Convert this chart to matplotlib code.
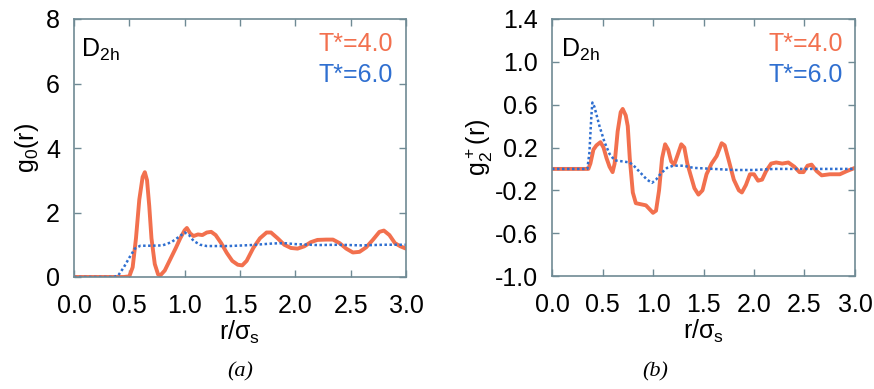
import matplotlib
matplotlib.use("Agg")
import matplotlib.pyplot as plt

# ---- data ----
r_a_t4 = [0.0, 0.45, 0.50, 0.53, 0.56, 0.59, 0.62, 0.64, 0.66, 0.68, 0.70, 0.73, 0.76, 0.78,
          0.82, 0.87, 0.92, 0.96, 1.00, 1.02, 1.05, 1.08, 1.12, 1.16, 1.20, 1.24, 1.28, 1.33,
          1.38, 1.43, 1.48, 1.52, 1.56, 1.62, 1.68, 1.74, 1.78, 1.84, 1.90, 1.96, 2.02, 2.08,
          2.14, 2.20, 2.28, 2.34, 2.40, 2.46, 2.52, 2.58, 2.64, 2.70, 2.76, 2.80, 2.85, 2.90,
          2.95, 3.00]
g_a_t4 = [0.0, 0.0, 0.02, 0.3, 1.2, 2.4, 3.1, 3.25, 3.0, 2.2, 1.2, 0.4, 0.08, 0.05,
          0.2, 0.55, 0.9, 1.2, 1.45, 1.52, 1.35, 1.27, 1.32, 1.30, 1.38, 1.40, 1.30, 1.05,
          0.75, 0.5, 0.38, 0.36, 0.5, 0.9, 1.2, 1.38, 1.38, 1.2, 1.0, 0.9, 0.88, 0.95,
          1.08, 1.15, 1.16, 1.16, 1.05, 0.88, 0.76, 0.78, 0.92, 1.15, 1.40, 1.44, 1.3, 1.05,
          0.95, 0.88]

r_a_t6 = [0.0, 0.36, 0.40, 0.45, 0.50, 0.55, 0.60, 0.70, 0.80, 0.88, 0.95, 1.00, 1.04, 1.08,
          1.14, 1.20, 1.40, 1.60, 1.80, 1.90, 2.00, 2.20, 2.40, 2.60, 2.80, 3.00]
g_a_t6 = [0.0, 0.0, 0.05, 0.3, 0.6, 0.88, 0.97, 0.97, 0.98, 1.08, 1.25, 1.38, 1.3, 1.12,
          1.0, 0.96, 0.96, 0.99, 1.04, 1.05, 1.02, 0.99, 1.0, 0.98, 1.0, 1.0]

r_b_t4 = [0.0, 0.36, 0.38, 0.41, 0.44, 0.48, 0.51, 0.54, 0.57, 0.60, 0.62, 0.65, 0.68, 0.70,
          0.73, 0.75, 0.77, 0.80, 0.83, 0.88, 0.93, 0.97, 1.00, 1.03, 1.06, 1.09, 1.12, 1.15,
          1.18, 1.21, 1.24, 1.28, 1.31, 1.34, 1.37, 1.41, 1.45, 1.49, 1.53, 1.58, 1.63, 1.68,
          1.71, 1.75, 1.80, 1.85, 1.88, 1.92, 1.96, 2.00, 2.04, 2.08, 2.12, 2.17, 2.22, 2.28,
          2.34, 2.40, 2.45, 2.49, 2.53, 2.57, 2.62, 2.67, 2.75, 2.85, 2.92, 3.00]
g_b_t4 = [0.0, 0.0, 0.05, 0.18, 0.22, 0.25, 0.20, 0.10, 0.02, -0.03, 0.05, 0.35, 0.53, 0.56,
          0.50, 0.40, 0.1, -0.22, -0.32, -0.33, -0.34, -0.38, -0.41, -0.39, -0.2, 0.1, 0.23, 0.18,
          0.07, 0.04, 0.12, 0.23, 0.20, 0.05, -0.05, -0.18, -0.24, -0.20, -0.05, 0.05, 0.12, 0.24,
          0.22, 0.08, -0.10, -0.20, -0.22, -0.15, -0.05, -0.05, -0.11, -0.10, -0.02, 0.05, 0.06, 0.05,
          0.06, 0.02, -0.03, -0.03, 0.03, 0.04, -0.02, -0.06, -0.05, -0.05, -0.02, 0.01]

r_b_t6 = [0.0, 0.35, 0.37, 0.39, 0.40, 0.42, 0.47, 0.52, 0.57, 0.62, 0.70, 0.77, 0.82, 0.88,
          0.94, 0.99, 1.03, 1.08, 1.14, 1.20, 1.30, 1.40, 1.60, 1.80, 2.00, 2.20, 2.50, 2.80, 3.00]
g_b_t6 = [0.0, 0.0, 0.15, 0.50, 0.62, 0.58, 0.40, 0.25, 0.14, 0.08, 0.07, 0.06, 0.02, -0.04,
          -0.10, -0.13, -0.10, -0.04, 0.01, 0.03, 0.03, 0.01, 0.0, -0.01, -0.01, 0.0, 0.0, 0.0, 0.0]

xticks = [0.0, 0.5, 1.0, 1.5, 2.0, 2.5, 3.0]
yticks_a = [0, 2, 4, 6, 8]
yticks_b = [-1.0, -0.6, -0.2, 0.2, 0.6, 1.0, 1.4]
labels = ["T*=4.0", "T*=6.0"]

# ---- style ----
plt.rcParams['font.family'] = ['Liberation Sans', 'DejaVu Sans']
c_or = '#f2704e'
c_bl = '#2f6fd0'
c_sp = '#6f8a94'
fs = 18

fig = plt.figure(figsize=(8.74, 3.89), dpi=100)
W, H = 874, 389
axa = fig.add_axes([74 / W, 1 - 277 / H, (406 - 74) / W, (277 - 19) / H])
axb = fig.add_axes([552 / W, 1 - 276 / H, (855 - 552) / W, (276 - 19) / H])


def style(ax):
    for s in ax.spines.values():
        s.set_color(c_sp)
        s.set_linewidth(1.2)
    ax.tick_params(direction='in', length=5, width=1, color=c_sp, labelsize=fs,
                   top=True, right=True)
    ax.tick_params(axis='x', pad=12)
    ax.tick_params(axis='y', pad=10)
    ax.set_xlim(0, 3.0)
    ax.set_xticks(xticks)
    ax.set_xticklabels([f"{t:.1f}" for t in xticks])
    ax.set_xlabel(r"r/$\mathregular{\sigma_s}$", fontsize=fs, labelpad=1)


# panel a
axa.plot(r_a_t4, g_a_t4, color=c_or, lw=2.8, solid_joinstyle='round')
axa.plot(r_a_t6, g_a_t6, color=c_bl, lw=1.8, ls=(0, (1, 1)))
axa.set_ylim(0, 8)
axa.set_yticks(yticks_a)
style(axa)
axa.set_ylabel(r"g$\mathregular{_0}$(r)", fontsize=fs, labelpad=4)
axa.text(0.02, 0.93, r"D$\mathregular{_{2h}}$", transform=axa.transAxes, fontsize=fs,
         va='top', ha='left')
axa.text(0.96, 0.95, labels[0], transform=axa.transAxes, fontsize=fs, color=c_or,
         va='top', ha='right')
axa.text(0.96, 0.83, labels[1], transform=axa.transAxes, fontsize=fs, color=c_bl,
         va='top', ha='right')

# panel b
axb.plot(r_b_t4, g_b_t4, color=c_or, lw=2.8, solid_joinstyle='round')
axb.plot(r_b_t6, g_b_t6, color=c_bl, lw=1.8, ls=(0, (1, 1)))
axb.set_ylim(-1.0, 1.4)
axb.set_yticks(yticks_b)
axb.set_yticklabels([f"{t:.1f}" for t in yticks_b])
style(axb)
axb.set_ylabel(r"g$\mathregular{_2^+}$(r)", fontsize=fs, labelpad=0)
axb.text(0.03, 0.93, r"D$\mathregular{_{2h}}$", transform=axb.transAxes, fontsize=fs,
         va='top', ha='left')
axb.text(0.96, 0.95, labels[0], transform=axb.transAxes, fontsize=fs, color=c_or,
         va='top', ha='right')
axb.text(0.96, 0.83, labels[1], transform=axb.transAxes, fontsize=fs, color=c_bl,
         va='top', ha='right')

fig.text(240 / W, 1 - 372 / H, "(a)", fontsize=16, family='Liberation Serif', style='italic',
         ha='center', va='center')
fig.text(655 / W, 1 - 372 / H, "(b)", fontsize=16, family='Liberation Serif', style='italic',
         ha='center', va='center')

fig.savefig("out.png", dpi=100)
